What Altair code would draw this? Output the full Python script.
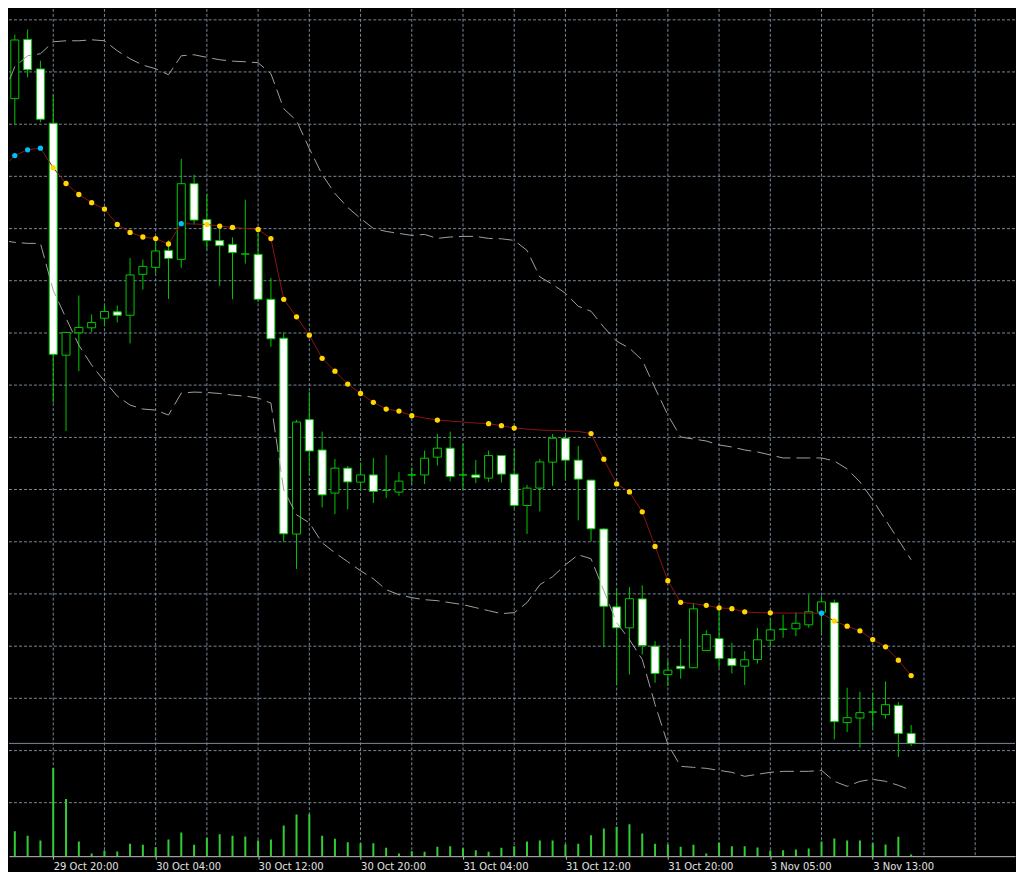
import altair as alt
import pandas as pd

# ---------------- data (EURUSD H1) ----------------
open_ = [1.27142, 1.27460, 1.27757, 1.27609, 1.27337, 1.26175, 1.26287, 1.26312, 1.26360, 1.26392,
         1.26375, 1.26580, 1.26615, 1.26700, 1.26655, 1.27034, 1.26854, 1.26749, 1.26730, 1.26682,
         1.26680, 1.26455, 1.26260, 1.25279, 1.25852, 1.25700, 1.25484, 1.25609, 1.25539, 1.25575,
         1.25497, 1.25489, 1.25575, 1.25575, 1.25664, 1.25709, 1.25575, 1.25575, 1.25559, 1.25672,
         1.25579, 1.25422, 1.25509, 1.25639, 1.25759, 1.25649, 1.25549, 1.25304, 1.24914, 1.24809,
         1.24954, 1.24717, 1.24575, 1.24617, 1.24609, 1.24695, 1.24755, 1.24655, 1.24617, 1.24650,
         1.24747, 1.24802, 1.24804, 1.24824, 1.24887, 1.24935, 1.24334, 1.24357, 1.24387, 1.24374,
         1.24420, 1.24280]
high = [1.27459, 1.27780, 1.27807, 1.27650, 1.27479, 1.26290, 1.26474, 1.26379, 1.26430, 1.26424,
        1.26662, 1.26654, 1.26750, 1.26750, 1.27159, 1.27079, 1.26982, 1.26830, 1.26765, 1.26954,
        1.26810, 1.26562, 1.26289, 1.25850, 1.25992, 1.25792, 1.25655, 1.25620, 1.25637, 1.25660,
        1.25674, 1.25589, 1.25612, 1.25697, 1.25780, 1.25792, 1.25730, 1.25650, 1.25697, 1.25672,
        1.25704, 1.25525, 1.25655, 1.25780, 1.25770, 1.25720, 1.25550, 1.25309, 1.25005, 1.25012,
        1.25022, 1.24742, 1.24647, 1.24754, 1.24934, 1.24797, 1.24914, 1.24734, 1.24692, 1.24809,
        1.24857, 1.24875, 1.24887, 1.24975, 1.24967, 1.24950, 1.24509, 1.24489, 1.24484, 1.24540,
        1.24437, 1.24322]
low = [1.27025, 1.27330, 1.27567, 1.27342, 1.25937, 1.25795, 1.26095, 1.26292, 1.26320, 1.26339,
       1.26234, 1.26504, 1.26584, 1.26457, 1.26612, 1.26830, 1.26704, 1.26522, 1.26455, 1.26634,
       1.26442, 1.26217, 1.25239, 1.25104, 1.25575, 1.25412, 1.25379, 1.25402, 1.25497, 1.25434,
       1.25459, 1.25470, 1.25529, 1.25530, 1.25622, 1.25542, 1.25500, 1.25534, 1.25540, 1.25537,
       1.25409, 1.25279, 1.25392, 1.25520, 1.25554, 1.25347, 1.25242, 1.24712, 1.24525, 1.24575,
       1.24675, 1.24534, 1.24517, 1.24554, 1.24609, 1.24695, 1.24609, 1.24580, 1.24522, 1.24630,
       1.24712, 1.24759, 1.24767, 1.24809, 1.24784, 1.24250, 1.24287, 1.24209, 1.24309, 1.24354,
       1.24162, 1.24217]
close = [1.27457, 1.27754, 1.27605, 1.27357, 1.26179, 1.26289, 1.26314, 1.26339, 1.26394, 1.26375,
         1.26577, 1.26620, 1.26697, 1.26660, 1.27034, 1.26852, 1.26749, 1.26724, 1.26689, 1.26682,
         1.26455, 1.26257, 1.25280, 1.25840, 1.25695, 1.25475, 1.25609, 1.25540, 1.25575, 1.25492,
         1.25497, 1.25544, 1.25575, 1.25659, 1.25709, 1.25567, 1.25575, 1.25562, 1.25672, 1.25579,
         1.25422, 1.25509, 1.25640, 1.25759, 1.25649, 1.25554, 1.25305, 1.24917, 1.24809, 1.24955,
         1.24720, 1.24580, 1.24597, 1.24604, 1.24904, 1.24775, 1.24655, 1.24620, 1.24649, 1.24749,
         1.24799, 1.24802, 1.24832, 1.24889, 1.24939, 1.24339, 1.24359, 1.24384, 1.24387, 1.24424,
         1.24280, 1.24230]
volume = [1120, 1250, 1020, 785, 4420, 2870, 735, 135, 285, 235,
          620, 570, 450, 835, 1185, 570, 920, 1100, 1020, 985,
          785, 835, 1535, 2085, 2100, 1020, 870, 700, 650, 650,
          420, 135, 250, 220, 470, 500, 400, 300, 220, 425,
          500, 735, 785, 785, 585, 620, 1050, 1385, 1470, 1600,
          1135, 620, 585, 470, 570, 135, 670, 500, 500, 435,
          285, 300, 335, 385, 735, 885, 785, 785, 650, 585,
          970, 85]
band_upper = [1.27465, 1.27620, 1.27675, 1.27685, 1.27745, 1.27750, 1.27750, 1.27755, 1.27750, 1.27700,
              1.27660, 1.27628, 1.27610, 1.27580, 1.27675, 1.27680, 1.27667, 1.27655, 1.27648, 1.27645,
              1.27640, 1.27585, 1.27410, 1.27350, 1.27210, 1.27080, 1.26985, 1.26915, 1.26860, 1.26810,
              1.26795, 1.26785, 1.26775, 1.26780, 1.26760, 1.26767, 1.26770, 1.26770, 1.26760, 1.26758,
              1.26750, 1.26700, 1.26567, 1.26530, 1.26485, 1.26420, 1.26395, 1.26315, 1.26245, 1.26210,
              1.26150, 1.26010, 1.25875, 1.25765, 1.25755, 1.25745, 1.25725, 1.25715, 1.25700, 1.25690,
              1.25675, 1.25660, 1.25660, 1.25660, 1.25660, 1.25645, 1.25605, 1.25540, 1.25450, 1.25350,
              1.25250, 1.25150]
band_lower = [1.26750, 1.26740, 1.26735, 1.26735, 1.26500, 1.26360, 1.26225, 1.26125, 1.26045, 1.25970,
              1.25925, 1.25905, 1.25900, 1.25875, 1.25985, 1.25990, 1.25988, 1.25983, 1.25975, 1.25970,
              1.25960, 1.25935, 1.25500, 1.25375, 1.25335, 1.25235, 1.25185, 1.25140, 1.25095, 1.25055,
              1.25000, 1.24975, 1.24960, 1.24950, 1.24945, 1.24935, 1.24925, 1.24910, 1.24895, 1.24880,
              1.24885, 1.24935, 1.25025, 1.25065, 1.25125, 1.25175, 1.25155, 1.24995, 1.24835, 1.24750,
              1.24650, 1.24425, 1.24225, 1.24115, 1.24110, 1.24105, 1.24095, 1.24085, 1.24065, 1.24075,
              1.24085, 1.24090, 1.24090, 1.24090, 1.24095, 1.24040, 1.24015, 1.24040, 1.24050, 1.24040,
              1.24020, 1.23995]
signal = [1.27112, 1.27175, 1.27204, 1.27212, 1.27114, 1.27035, 1.26980, 1.26939, 1.26907, 1.26830,
          1.26790, 1.26767, 1.26759, 1.26732, 1.26834, 1.26832, 1.26830, 1.26822, 1.26815, 1.26810,
          1.26805, 1.26759, 1.26455, 1.26367, 1.26275, 1.26159, 1.26095, 1.26030, 1.25983, 1.25939,
          1.25905, 1.25895, 1.25872, 1.25860, 1.25850, 1.25845, 1.25840, 1.25835, 1.25832, 1.25822,
          1.25810, 1.25805, 1.25800, 1.25798, 1.25795, 1.25793, 1.25782, 1.25654, 1.25530, 1.25490,
          1.25390, 1.25217, 1.25045, 1.24937, 1.24930, 1.24922, 1.24909, 1.24905, 1.24889, 1.24885,
          1.24884, 1.24883, 1.24883, 1.24882, 1.24882, 1.24843, 1.24817, 1.24794, 1.24750, 1.24714,
          1.24647, 1.24570]
# dot state per bar: u = up (blue), d = down (gold), n = no dot
signal_dot = list("uuuu" "dddddddddd" "u" "n" "ddd" "n" "ddddddddddddd" "n" "d" "nnn"
                  "ddd" "nnnnn" "dddddddd" "n" "dddd" "n" "d" "nnn" "u" "ddddddd")

tick_idx = [4, 12, 20, 28, 36, 44, 52, 60, 68]
tick_lab = ["29 Oct 20:00", "30 Oct 04:00", "30 Oct 12:00", "30 Oct 20:00", "31 Oct 04:00",
            "31 Oct 12:00", "31 Oct 20:00", "3 Nov 05:00", "3 Nov 13:00"]
grid_idx = list(range(0, 80, 4))
grid_price = [1.27855, 1.27594, 1.27332, 1.27071, 1.26809, 1.26548, 1.26286, 1.26025,
              1.25763, 1.25502, 1.25240, 1.24979, 1.24717, 1.24456, 1.24194, 1.23933]

# ---------------- tables ----------------
n = len(close)
df = pd.DataFrame({
    "i": list(range(n)), "open": open_, "high": high, "low": low, "close": close,
    "vol": volume, "upper": band_upper, "lower": band_lower,
    "sig": signal, "dot": signal_dot,
})
df["dir"] = ["up" if c >= o else "down" for o, c in zip(open_, close)]
gx = pd.DataFrame({"i": grid_idx})
gy = pd.DataFrame({"p": grid_price})
bid = pd.DataFrame({"p": [close[-1]]})

# ---------------- styling ----------------
W, H = 1008, 849
XDOM = [0.5456, 79.11]
YDOM = [1.23665, 1.27910]
VDOM = [0, 42450]
GREEN = "#00c800"
GRID = "#778899"

label_expr = "".join(f"datum.value == {i} ? '{t}' : " for i, t in zip(tick_idx, tick_lab)) + "''"
x_axis = alt.Axis(values=tick_idx, labelExpr=label_expr, grid=False, title=None,
                  domain=True, domainColor="#c0c0c0", domainWidth=1,
                  ticks=True, tickColor="#c0c0c0", tickSize=3, tickWidth=1,
                  labelColor="#e0e0e0", labelFont="DejaVu Sans", labelFontSize=10,
                  labelAlign="left", labelPadding=2, labelOverlap=False, labelFlush=False,
                  labelBound=False)
xs = alt.Scale(domain=XDOM, nice=False, zero=False, padding=0)
ys = alt.Scale(domain=YDOM, nice=False, zero=False, padding=0)


def X(field="i"):
    return alt.X(f"{field}:Q", scale=xs, axis=x_axis)


def Y(field):
    return alt.Y(f"{field}:Q", scale=ys, axis=None)


grid_v = alt.Chart(gx).mark_rule(color=GRID, strokeDash=[3, 2], strokeWidth=1, clip=True).encode(x=X())
grid_h = alt.Chart(gy).mark_rule(color=GRID, strokeDash=[3, 2], strokeWidth=1).encode(
    x=alt.value(0), x2=alt.value(W), y=Y("p"))

base = alt.Chart(df)

vol = base.mark_bar(size=2, color="#32cd32", clip=True).encode(
    x=X(), y=alt.Y("vol:Q", scale=alt.Scale(domain=VDOM, nice=False, zero=True, padding=0),
                   axis=None))

bidline = alt.Chart(bid).mark_rule(color=GRID, strokeWidth=1).encode(
    x=alt.value(0), x2=alt.value(W), y=Y("p"))

wick = base.mark_rule(color=GREEN, strokeWidth=1, clip=True).encode(
    x=X(), y=Y("low"), y2="high:Q")

body = base.mark_bar(size=8, stroke=GREEN, strokeWidth=1, clip=True).encode(
    x=X(), y=Y("open"), y2="close:Q",
    fill=alt.Fill("dir:N", scale=alt.Scale(domain=["up", "down"], range=["#000000", "#ffffff"]),
                  legend=None))

up_band = base.mark_line(color="#a0a0a0", strokeWidth=1, strokeDash=[14, 6], clip=True).encode(
    x=X(), y=Y("upper"))
lo_band = base.mark_line(color="#a0a0a0", strokeWidth=1, strokeDash=[14, 6], clip=True).encode(
    x=X(), y=Y("lower"))

sig_line = base.mark_line(color="#8b1414", strokeWidth=1, clip=True).encode(x=X(), y=Y("sig"))
sig_dots = base.transform_filter("datum.dot != 'n'").mark_circle(size=28, opacity=1, clip=True).encode(
    x=X(), y=Y("sig"),
    color=alt.Color("dot:N", scale=alt.Scale(domain=["u", "d"], range=["#00bfff", "#ffd700"]),
                    legend=None))

chart = alt.layer(
    grid_v, grid_h, vol, bidline, wick, body, up_band, lo_band, sig_line, sig_dots
).resolve_scale(y="independent").properties(
    width=W, height=H, padding=0
).configure(background="#000000").configure_view(strokeWidth=0)

chart.save("out.html", embed_options={"renderer": "svg", "actions": False})
